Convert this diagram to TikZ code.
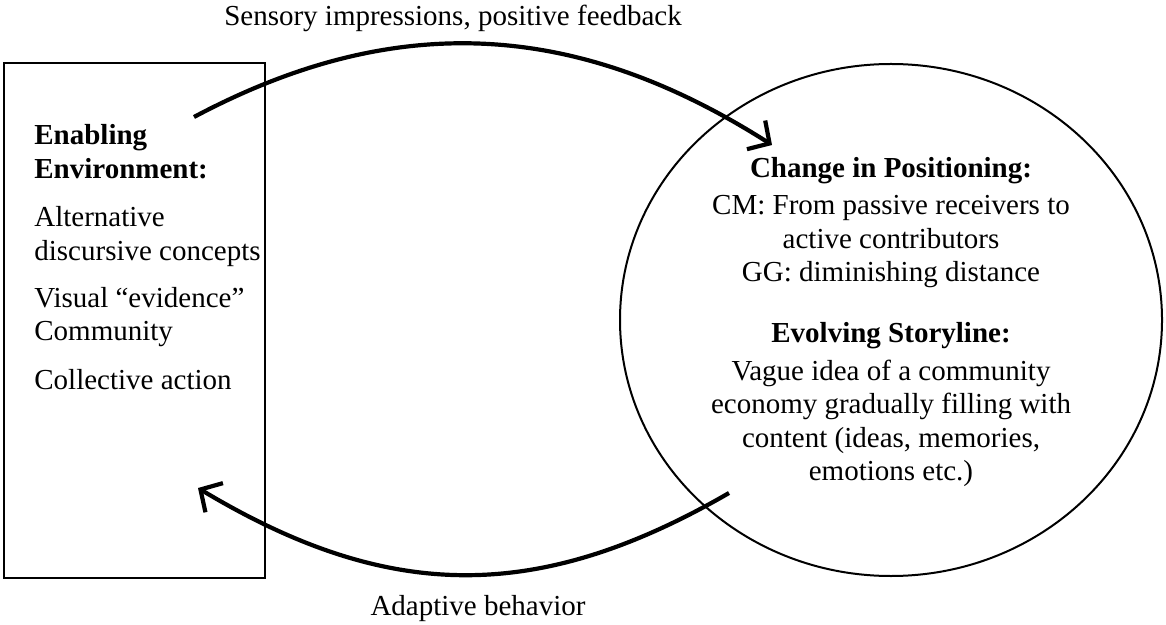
\documentclass[tikz,border=0pt]{standalone}
\usepackage{fontspec}
\setmainfont{Liberation Serif}
\usetikzlibrary{arrows.meta, positioning, shapes.geometric}

\tikzset{
  loopline/.style={line width=2.1pt, -{Straight Barb[length=8pt, width=17pt]}},
  bodytext/.style={font=\fontsize{14.5}{16.75}\selectfont, inner sep=0pt},
  headtext/.style={font=\fontsize{14.5}{16.75}\selectfont\bfseries, inner sep=0pt},
}

\begin{document}
\begin{tikzpicture}[x=0.5pt, y=-0.5pt]
\useasboundingbox (0,0) rectangle (1166,625);

% --- Left box: the enabling environment ---
\node[draw, line width=1.3pt, minimum width=130.5pt, minimum height=257.5pt, inner sep=0pt] (enabling) at (134.5,320.5) {};
\node[headtext, anchor=base west, align=left] (env-head) at (34,178.5) {Enabling\\Environment:};
\node[bodytext, anchor=base west, align=left] (env-alt) at (34,260.5) {Alternative\\discursive concepts};
\node[bodytext, anchor=base west, align=left] (env-vis) at (34,341) {Visual “evidence”\\Community};
\node[bodytext, anchor=base west, align=left] (env-col) at (34,389) {Collective action};

% --- Right ellipse: positioning and storyline ---
\node[draw, ellipse, line width=1pt, minimum width=271pt, minimum height=256pt, inner sep=0pt] (positioning) at (891,320) {};
\node[headtext, anchor=base] (pos-head) at (891,178) {Change in Positioning:};
\node[bodytext, anchor=base, align=center] (pos-body) at (891,282) {CM: From passive receivers to\\active contributors\\GG: diminishing distance};
\node[headtext, anchor=base] (story-head) at (891,343) {Evolving Storyline:};
\node[bodytext, anchor=base, align=center] (story-body) at (891,480.5) {Vague idea of a community\\economy gradually filling with\\content (ideas, memories,\\emotions etc.)};

% --- Feedback loop ---
\coordinate (fb-start) at (194,117);
\coordinate (fb-end) at (772,145);
\draw[loopline] (fb-start) .. controls (397,9) and (578,21.5) .. (fb-end);
\node[bodytext, anchor=base] (fb-label) at (453,26) {Sensory impressions, positive feedback};

\coordinate (ad-start) at (729,493);
\coordinate (ad-end) at (198,488);
\draw[loopline] (ad-start) .. controls (537,604) and (388,602) .. (ad-end);
\node[bodytext, anchor=base] (ad-label) at (478,615) {Adaptive behavior};

\end{tikzpicture}
\end{document}
